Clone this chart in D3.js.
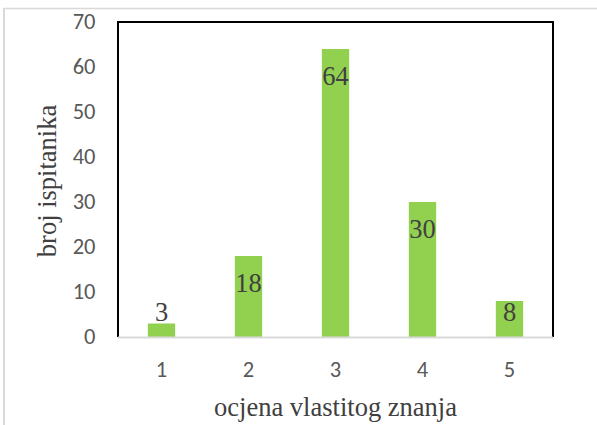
<!DOCTYPE html>
<html>
<head>
<meta charset="utf-8">
<script src="https://cdn.jsdelivr.net/npm/d3@7"></script>
<style>
  html, body { margin: 0; padding: 0; background: #fff; }
  svg { display: block; }
</style>
</head>
<body>
<svg id="chart" width="597" height="425"></svg>
<script>
// Self-assessed knowledge grades and number of respondents per grade
const categories = ["1", "2", "3", "4", "5"];
const values = [3, 18, 64, 30, 8];
const yTicks = [0, 10, 20, 30, 40, 50, 60, 70];
const xTitle = "ocjena vlastitog znanja";
const yTitle = "broj ispitanika";

const serif = "'Liberation Serif', 'Times New Roman', serif";
const sans = "Carlito, Calibri, 'Open Sans', sans-serif";

const svg = d3.select("#chart");
const W = 597, H = 425;
const plot = { left: 118, top: 22, right: 553, bottom: 337 };

// outer frame of the chart area
svg.append("line").attr("x1", 4).attr("x2", W).attr("y1", 8.5).attr("y2", 8.5)
  .attr("stroke", "#d9d9d9").attr("stroke-width", 1.5);
svg.append("line").attr("x1", 4).attr("x2", 4).attr("y1", 8).attr("y2", H)
  .attr("stroke", "#d9d9d9").attr("stroke-width", 2);

const x = d3.scaleBand().domain(categories)
  .range([plot.left, plot.right]).paddingInner(0.686).paddingOuter(0.343);
const y = d3.scaleLinear().domain([0, 70]).range([plot.bottom, plot.top]);

// bars
svg.append("g").selectAll("rect").data(values).join("rect")
  .attr("x", (d, i) => x(categories[i]))
  .attr("width", x.bandwidth())
  .attr("y", d => y(d))
  .attr("height", d => y(0) - y(d))
  .attr("fill", "#92d050");

// plot border (left, top, right)
svg.append("path")
  .attr("d", `M${plot.left},${plot.bottom} V${plot.top} H${plot.right} V${plot.bottom}`)
  .attr("fill", "none").attr("stroke", "#000").attr("stroke-width", 2);

// x axis
const xAxis = svg.append("g").attr("transform", `translate(0,${plot.bottom})`)
  .call(d3.axisBottom(x).tickSize(0));
xAxis.select(".domain").attr("stroke", "#d9d9d9").attr("stroke-width", 2)
  .attr("d", `M${plot.left},0.5H${plot.right}`);
xAxis.selectAll("text")
  .attr("font-family", sans).attr("font-size", 22.5)
  .attr("fill", "#595959").attr("y", 40).attr("dy", 0);

// y axis
const yAxis = svg.append("g").attr("transform", `translate(${plot.left},0)`)
  .call(d3.axisLeft(y).tickValues(yTicks).tickSize(0));
yAxis.select(".domain").remove();
yAxis.selectAll("text")
  .attr("font-family", sans).attr("font-size", 22.5)
  .attr("fill", "#595959").attr("x", -22.5).attr("dy", 6.5);

// value labels: inside the top of the bar, or just above when the bar is short
const labelFloor = y(0) - 16.5;
svg.append("g").selectAll("text").data(values).join("text")
  .attr("x", (d, i) => x(categories[i]) + x.bandwidth() / 2)
  .attr("y", d => Math.min(y(d) + 35.5, labelFloor))
  .attr("text-anchor", "middle")
  .attr("font-family", serif)
  .attr("font-size", 26.5)
  .attr("fill", "#404040")
  .text(d => d);

// axis titles
svg.append("text")
  .attr("x", (plot.left + plot.right) / 2).attr("y", 416)
  .attr("text-anchor", "middle")
  .attr("font-family", serif)
  .attr("font-size", 26.5).attr("fill", "#404040")
  .text(xTitle);
svg.append("text")
  .attr("transform", `translate(56,181) rotate(-90)`)
  .attr("text-anchor", "middle")
  .attr("font-family", serif)
  .attr("font-size", 26.5).attr("fill", "#404040")
  .text(yTitle);
</script>
</body>
</html>
